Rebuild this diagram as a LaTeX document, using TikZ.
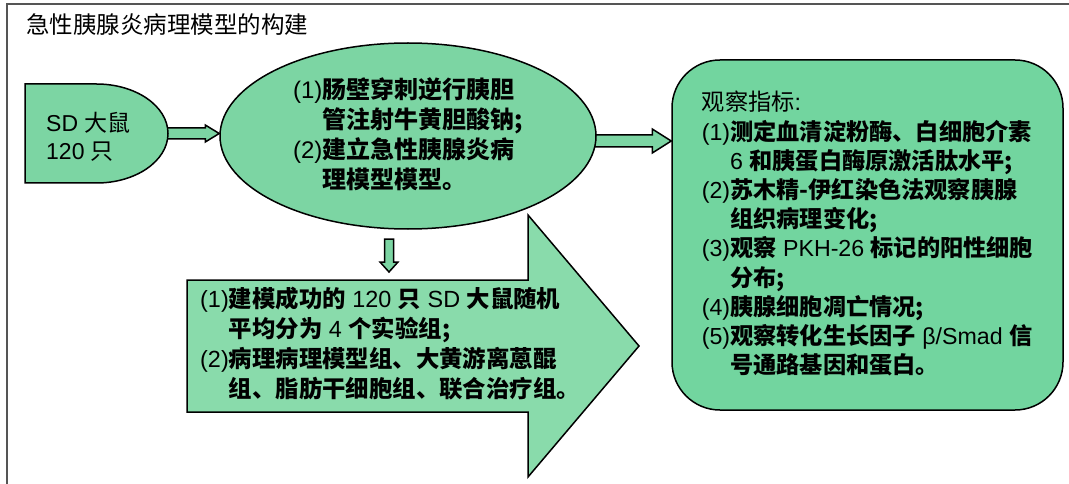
\documentclass[tikz,border=0pt]{standalone}
\usepackage{fontspec}
\setmainfont{Liberation Sans}
\newfontfamily\cjk{Noto Sans CJK SC}
\usetikzlibrary{shapes.geometric,calc}
\pgfdeclarelayer{bg}
\pgfsetlayers{bg,main}
\definecolor{gA}{HTML}{7CD5A3}
\definecolor{gB}{HTML}{72D59F}
\definecolor{gC}{HTML}{89DBAB}
\definecolor{frameg}{HTML}{555555}
\newcommand\en[1]{{\normalfont#1}}
\begin{document}
\begin{tikzpicture}[x=1pt,y=-1pt,
  outl/.style={draw=black,line width=1.5pt,line join=miter},
  blk/.style={draw=black,line width=1.5pt,fill=gA,line join=miter},
  bodytxt/.style={font=\fontsize{23.4}{30}\selectfont\cjk\bfseries,align=left,text=black,inner sep=0pt},
  plaintxt/.style={font=\fontsize{23}{28}\selectfont\cjk,align=left,text=black,inner sep=0pt}
]
\useasboundingbox (0,0) rectangle (1069,484);
% outer frame
\draw[frameg,line width=1.5pt] (7,484) -- (7,4) -- (1069,4);
% title
\node[plaintxt,anchor=west,font=\fontsize{23.5}{26}\selectfont\cjk] (title) at (26,25) {急性胰腺炎病理模型的构建};

% SD box (delay shape)
\draw[outl,fill=gA] (25,84) -- (96.5,84) .. controls (136,84) and (168,106.2) .. (168,133.5)
  .. controls (168,160.8) and (136,183) .. (96.5,183) -- (25,183) -- cycle;
\coordinate (sdtip) at (168,133.5);
\node[plaintxt,anchor=west] (sdt) at (46,136.5) {\en{SD }大鼠\\\en{120 }只};

% ellipse
\node[ellipse,outl,fill=gA,minimum width=376pt,minimum height=186pt,inner sep=0pt,
  font=\fontsize{24}{30}\selectfont\cjk\bfseries,align=left] (ell) at (408,136)
  {\en{(1)}肠壁穿刺逆行胰胆\\\en{\phantom{(1)}}管注射牛黄胆酸钠;\\\en{(2)}建立急性胰腺炎病\\\en{\phantom{(2)}}理模型模型。};

% observation box
\node[rectangle,rounded corners=48pt,outl,fill=gB,minimum width=391pt,minimum height=350pt,
  inner sep=0pt,font=\fontsize{23.2}{29.2}\selectfont\cjk\bfseries,align=left] (obs) at (867.5,235)
  {{\mdseries 观察指标\en{:}}\\
   \en{(1)}测定血清淀粉酶、白细胞介素\\
   \en{\phantom{(1)}6 }和胰蛋白酶原激活肽水平;\\
   \en{(2)}苏木精-伊红染色法观察胰腺\\
   \en{\phantom{(2)}}组织病理变化;\\
   \en{(3)}观察\en{ PKH-26 }标记的阳性细胞\\
   \en{\phantom{(3)}}分布;\\
   \en{(4)}胰腺细胞凋亡情况;\\
   \en{(5)}观察转化生长因子\en{ β/Smad }信\\
   \en{\phantom{(5)}}号通路基因和蛋白。};

% block arrows (behind the shapes)
\begin{pgfonlayer}{bg}
\coordinate (a1s) at ($(sdtip)+(-8,0)$);
\coordinate (a1e) at (ell.west |- sdtip);
\draw[blk] ($(a1s)+(0,-5.5)$) -- ($(a1e)+(-14,-5.5)$) -- ($(a1e)+(-14,-8.5)$) -- (a1e)
  -- ($(a1e)+(-14,8.5)$) -- ($(a1e)+(-14,5.5)$) -- ($(a1s)+(0,5.5)$) -- cycle;
\coordinate (a2s) at ($(ell.east)+(-10,5)$);
\coordinate (a2e) at (obs.west |- a2s);
\draw[blk] ($(a2s)+(0,-6)$) -- ($(a2e)+(-19,-6)$) -- ($(a2e)+(-19,-12)$) -- (a2e)
  -- ($(a2e)+(-19,12)$) -- ($(a2e)+(-19,6)$) -- ($(a2s)+(0,6)$) -- cycle;
\end{pgfonlayer}

% down arrow
\coordinate (d1) at (389,239);
\coordinate (d2) at (389,272);
\draw[blk] ($(d1)+(-4.5,0)$) -- ($(d2)+(-4.5,-10)$) -- ($(d2)+(-9,-10)$) -- (d2)
  -- ($(d2)+(9,-10)$) -- ($(d2)+(4.5,-10)$) -- ($(d1)+(4.5,0)$) -- cycle;

% big arrow
\draw[outl,fill=gC] (187,280) -- (528,280) -- (528,215) -- (639,346) -- (528,477)
  -- (528,412) -- (187,412) -- cycle;
\node[bodytxt] (grp) at (390,345)
  {\en{(1)}建模成功的\en{ 120 }只\en{ SD }大鼠随机\\
   \en{\phantom{(1)}}平均分为\en{ 4 }个实验组;\\
   \en{(2)}病理病理模型组、大黄游离蒽醌\\
   \en{\phantom{(2)}}组、脂肪干细胞组、联合治疗组。};
\end{tikzpicture}
\end{document}
